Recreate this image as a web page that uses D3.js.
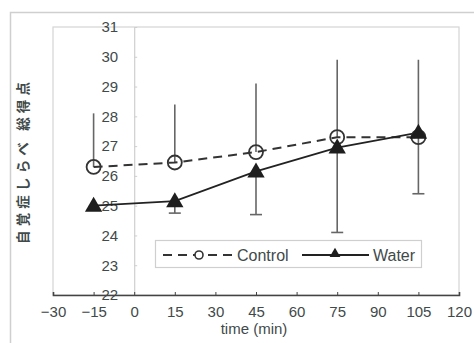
<!DOCTYPE html>
<html>
<head>
<meta charset="utf-8">
<script src="https://cdn.jsdelivr.net/npm/d3@7"></script>
<style>
  html, body { margin: 0; padding: 0; background: #fff; }
  svg { display: block; }
</style>
</head>
<body>
<svg id="chart" width="474" height="343"></svg>
<script>
// Time points (min) and group means / error limits
const times = [-15, 15, 45, 75, 105];
const controlMean = [26.3, 26.45, 26.8, 27.3, 27.3];
const controlUpper = [28.1, 28.4, 29.1, 29.9, 29.9];
const waterMean = [25.0, 25.15, 26.15, 26.95, 27.45];
const waterLower = [24.85, 24.75, 24.7, 24.1, 25.4];
const xTicks = [-30, -15, 0, 15, 30, 45, 60, 75, 90, 105, 120];
const yTicks = [22, 23, 24, 25, 26, 27, 28, 29, 30, 31];
const seriesNames = ["Control", "Water"];
const yTitle = "自覚症しらべ 総得点";
const xTitle = "time (min)";

const svg = d3.select("#chart");
const textColor = "#3f4a4a";
const numFont = "'Liberation Sans', Arial, sans-serif";

const x = d3.scaleLinear().domain([-30, 120]).range([53, 459]);
const y = d3.scaleLinear().domain([22, 31]).range([295, 27]);

// outer frame
svg.append("path")
  .attr("d", "M10.5,343 V12.5 H474")
  .attr("fill", "none").attr("stroke", "#cfcfcf").attr("stroke-width", 1.5);

// plot frame
svg.append("rect")
  .attr("x", x(-30)).attr("y", y(31))
  .attr("width", x(120) - x(-30)).attr("height", y(22) - y(31))
  .attr("fill", "#fff").attr("stroke", "#d4d4d4").attr("stroke-width", 1.2);

// y axis at time 0
const yAxis = svg.append("g")
  .attr("transform", `translate(${x(0)},0)`)
  .call(d3.axisLeft(y).tickValues(yTicks).tickFormat(d3.format("d"))
    .tickSizeInner(-3).tickSizeOuter(0).tickPadding(16));
yAxis.select(".domain").attr("stroke", "#cfcfcf").attr("stroke-width", 1.2);
yAxis.selectAll(".tick line").attr("stroke", "#cfcfcf");
yAxis.selectAll("text")
  .attr("fill", textColor).attr("font-size", 15).attr("font-family", numFont);

// x axis
const xAxis = svg.append("g")
  .attr("transform", `translate(0,${y(22)})`)
  .call(d3.axisBottom(x).tickValues(xTicks).tickFormat(d3.format("d"))
    .tickSizeInner(-3).tickSizeOuter(-3).tickPadding(11));
xAxis.select(".domain").attr("stroke", "#444").attr("stroke-width", 1.6);
xAxis.selectAll(".tick line").attr("stroke", "#444");
xAxis.selectAll("text")
  .attr("fill", textColor).attr("font-size", 15).attr("font-family", numFont);

// axis titles
svg.append("text")
  .attr("transform", `translate(22,163) rotate(-90)`)
  .attr("text-anchor", "middle").attr("dominant-baseline", "central")
  .attr("font-family", "'Noto Sans CJK JP', sans-serif")
  .attr("font-weight", "bold").attr("font-size", 13.5)
  .attr("textLength", 162).attr("lengthAdjust", "spacing")
  .attr("fill", textColor)
  .text(yTitle);

svg.append("text")
  .attr("x", 254).attr("y", 334)
  .attr("text-anchor", "middle")
  .attr("font-family", numFont).attr("font-size", 15)
  .attr("fill", textColor)
  .text(xTitle);

const errColor = "#666";

// Control error bars (upper)
svg.append("g").selectAll("line")
  .data(times.map((t, i) => ({ t, m: controlMean[i], u: controlUpper[i] })))
  .join("line")
  .attr("x1", d => x(d.t)).attr("x2", d => x(d.t))
  .attr("y1", d => y(d.m)).attr("y2", d => y(d.u))
  .attr("stroke", errColor).attr("stroke-width", 1.6);

// Water error bars (lower, capped)
const wErr = svg.append("g").selectAll("g")
  .data(times.map((t, i) => ({ t, m: waterMean[i], l: waterLower[i] })))
  .join("g");
wErr.append("line")
  .attr("x1", d => x(d.t)).attr("x2", d => x(d.t))
  .attr("y1", d => y(d.m)).attr("y2", d => y(d.l))
  .attr("stroke", errColor).attr("stroke-width", 1.6);
wErr.append("line")
  .attr("x1", d => x(d.t) - 6).attr("x2", d => x(d.t) + 6)
  .attr("y1", d => y(d.l)).attr("y2", d => y(d.l))
  .attr("stroke", errColor).attr("stroke-width", 1.6);

const line = d3.line().x(d => x(d[0])).y(d => y(d[1]));

// Control series: dashed line with open circles
svg.append("path")
  .datum(times.map((t, i) => [t, controlMean[i]]))
  .attr("d", line)
  .attr("fill", "none").attr("stroke", "#333")
  .attr("stroke-width", 2).attr("stroke-dasharray", "9,6");

// Water series: solid line with filled triangles
svg.append("path")
  .datum(times.map((t, i) => [t, waterMean[i]]))
  .attr("d", line)
  .attr("fill", "none").attr("stroke", "#222").attr("stroke-width", 1.8);

svg.append("g").selectAll("circle")
  .data(times.map((t, i) => [t, controlMean[i]]))
  .join("circle")
  .attr("cx", d => x(d[0])).attr("cy", d => y(d[1])).attr("r", 7)
  .attr("fill", "none").attr("stroke", "#333").attr("stroke-width", 1.8);

const tri = d3.symbol().type(d3.symbolTriangle).size(130);
svg.append("g").selectAll("path")
  .data(times.map((t, i) => [t, waterMean[i]]))
  .join("path")
  .attr("d", tri)
  .attr("transform", d => `translate(${x(d[0])},${y(d[1]) + 1})`)
  .attr("fill", "#1e1e1e");

// legend
const lg = svg.append("g");
lg.append("rect")
  .attr("x", 155.5).attr("y", 240.5).attr("width", 266).attr("height", 27)
  .attr("fill", "#fff").attr("stroke", "#cfcfcf").attr("stroke-width", 1.2);
const ly = 255;
lg.append("line")
  .attr("x1", 163).attr("x2", 233).attr("y1", ly).attr("y2", ly)
  .attr("stroke", "#333").attr("stroke-width", 1.8).attr("stroke-dasharray", "9,6");
lg.append("circle")
  .attr("cx", 199).attr("cy", ly).attr("r", 4)
  .attr("fill", "#fff").attr("stroke", "#333").attr("stroke-width", 1.6);
lg.append("text")
  .attr("x", 237).attr("y", ly).attr("dominant-baseline", "central")
  .attr("font-family", numFont).attr("font-size", 16).attr("fill", textColor)
  .text(seriesNames[0]);
lg.append("line")
  .attr("x1", 302).attr("x2", 369).attr("y1", ly).attr("y2", ly)
  .attr("stroke", "#222").attr("stroke-width", 1.8);
lg.append("path")
  .attr("d", d3.symbol().type(d3.symbolTriangle).size(50))
  .attr("transform", `translate(335,${ly - 1})`)
  .attr("fill", "#1e1e1e");
lg.append("text")
  .attr("x", 373).attr("y", ly).attr("dominant-baseline", "central")
  .attr("font-family", numFont).attr("font-size", 16).attr("fill", textColor)
  .text(seriesNames[1]);
</script>
</body>
</html>
